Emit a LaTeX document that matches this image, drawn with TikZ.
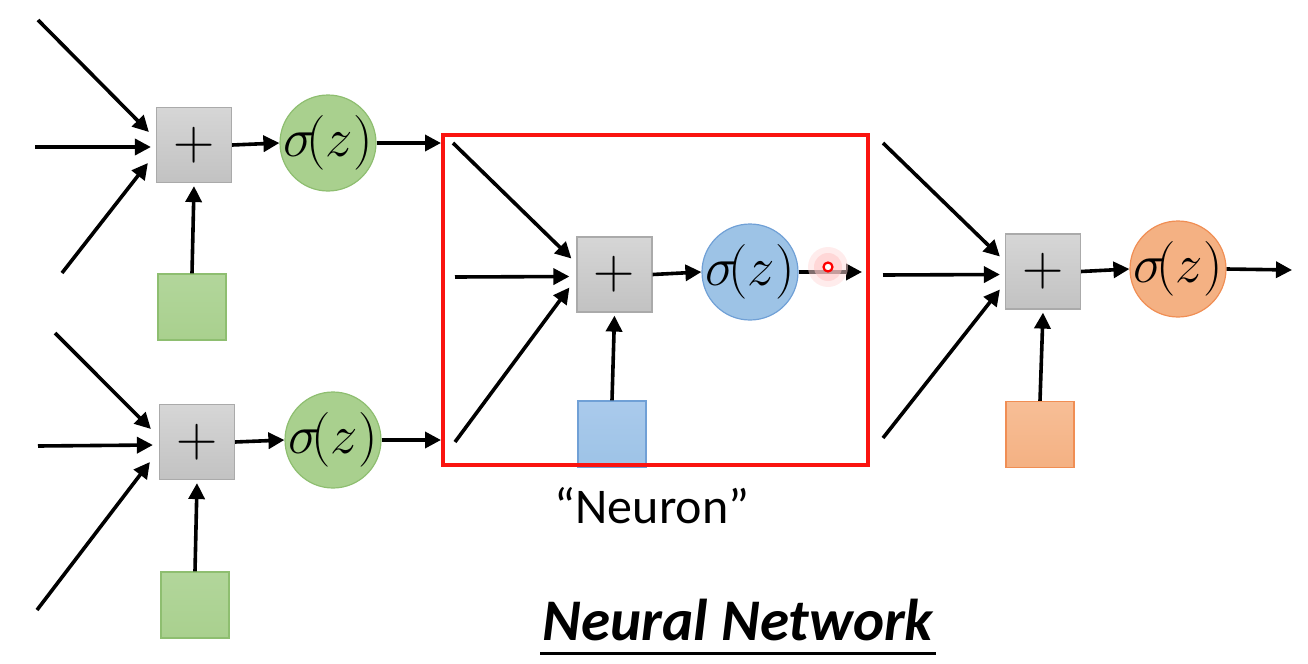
\documentclass[tikz,border=0pt]{standalone}
\usepackage{fontspec}
\setmainfont{Carlito}
\usetikzlibrary{arrows.meta,calc}
\definecolor{graytop}{RGB}{214,214,214}
\definecolor{graybot}{RGB}{194,194,194}
\definecolor{graybd}{RGB}{170,170,170}
\definecolor{greenfill}{RGB}{169,208,142}
\definecolor{greentop}{RGB}{178,214,155}
\definecolor{greenbd}{RGB}{142,190,112}
\definecolor{bluefill}{RGB}{157,195,230}
\definecolor{bluetop}{RGB}{170,202,236}
\definecolor{bluebd}{RGB}{112,160,214}
\definecolor{orangefill}{RGB}{244,177,131}
\definecolor{orangetop}{RGB}{247,190,150}
\definecolor{orangebd}{RGB}{240,142,84}
\definecolor{framered}{RGB}{250,20,16}
\newcommand{\sigz}{\makebox[0pt]{\scalebox{1.1}{$\sigma\!\bigl(z\bigr)$}}}
\newcommand{\plussign}{\scalebox{1.15}{$+$}}
\begin{document}
\begin{tikzpicture}[x=0.5pt,y=-0.5pt,
  sumbox/.style={draw=graybd, line width=0.6pt, top color=graytop, bottom color=graybot,
    minimum size=37.5pt, inner sep=0pt, font=\fontsize{24.88}{28}\selectfont},
  act/.style={circle, minimum size=48pt, inner sep=0pt, line width=0.6pt,
    font=\fontsize{24.88}{28}\selectfont},
  greenact/.style={act, fill=greenfill, draw=greenbd},
  blueact/.style={act, fill=bluefill, draw=bluebd},
  orangeact/.style={act, fill=orangefill, draw=orangebd},
  bias/.style={minimum width=34pt, minimum height=33pt, inner sep=0pt, line width=0.6pt},
  greenbias/.style={bias, draw=greenbd, top color=greentop, bottom color=greenfill},
  bluebias/.style={bias, draw=bluebd, top color=bluetop, bottom color=bluefill},
  orangebias/.style={bias, draw=orangebd, top color=orangetop, bottom color=orangefill},
  arr/.style={line width=1.8pt, -{Triangle[length=8pt,width=8pt]}},
]
\useasboundingbox (0,0) rectangle (1308,664);

% ---------- top-left neuron ----------
\node[sumbox] (s1) at (194,145) {\plussign};
\node[greenact] (a1) at (328,143) {\sigz};
\node[greenbias] (b1) at (192,307) {};
\coordinate (i1a) at (38,20);
\coordinate (i1b) at (35,147);
\coordinate (i1c) at (62,273);
\draw[arr] (i1a) -- ($(s1.west)+(-7,-13)$);
\draw[arr] (i1b) -- ($(s1.west)+(-5,2)$);
\draw[arr] (i1c) -- ($(s1.west)+(-8,18)$);
\draw[arr] (b1.north) -- ($(s1.south)+(0,3)$);
\draw[arr] (s1.east) -- (a1.west);

% ---------- bottom-left neuron ----------
\node[sumbox] (s2) at (197,442) {\plussign};
\node[greenact] (a2) at (333,440) {\sigz};
\node[greenbias] (b2) at (195,605) {};
\coordinate (i2a) at (55,333);
\coordinate (i2b) at (38,446);
\coordinate (i2c) at (37,610);
\draw[arr] (i2a) -- ($(s2.west)+(-8,-13)$);
\draw[arr] (i2b) -- ($(s2.west)+(-6,3)$);
\draw[arr] (i2c) -- ($(s2.west)+(-9,20)$);
\draw[arr] (b2.north) -- ($(s2.south)+(0,3)$);
\draw[arr] (s2.east) -- (a2.west);

% ---------- middle neuron ----------
\node[sumbox] (s3) at (614.5,274.5) {\plussign};
\node[blueact] (a3) at (750,272) {\sigz};
\node[bluebias] (b3) at (612,434) {};
\coordinate (i3a) at (453,143);
\coordinate (i3b) at (455,277);
\coordinate (i3c) at (455,442);
\coordinate (o3) at (862,272);
\draw[arr] (i3a) -- ($(s3.west)+(-5,-16)$);
\draw[arr] (i3b) -- ($(s3.west)+(-7,2)$);
\draw[arr] (i3c) -- ($(s3.west)+(-7,13)$);
\draw[arr] (b3.north) -- ($(s3.south)+(0,3)$);
\draw[arr] (s3.east) -- (a3.west);
\draw[arr] (a3.east) -- (o3);

% frame around the neuron
\node[draw=framered, line width=2pt, minimum width=212.5pt, minimum height=165pt,
  inner sep=0pt] (frame) at (655.5,300) {};
\draw[arr] (a1.east) -- (frame.west |- a1.east);
\draw[arr] (a2.east) -- (frame.west |- a2.east);

% cursor mark
\fill[red!30, opacity=0.55] (828,267) circle (7pt);
\fill[red!15, opacity=0.5] (828,267) circle (10pt);
\node[circle, draw=red, fill=white, line width=1.1pt, minimum size=4.5pt, inner sep=0pt] (cur) at (828,267) {};

% ---------- right neuron ----------
\node[sumbox] (s4) at (1043,271.5) {\plussign};
\node[orangeact] (a4) at (1178,269) {\sigz};
\node[orangebias] (b4) at (1040,434.5) {};
\coordinate (i4a) at (883,143);
\coordinate (i4b) at (883,275);
\coordinate (i4c) at (883,438);
\coordinate (o4) at (1292,270);
\draw[arr] (i4a) -- ($(s4.west)+(-5,-15)$);
\draw[arr] (i4b) -- ($(s4.west)+(-5,3)$);
\draw[arr] (i4c) -- ($(s4.west)+(-5,18)$);
\draw[arr] (b4.north) -- ($(s4.south)+(0,3)$);
\draw[arr] (s4.east) -- (a4.west);
\draw[arr] (a4.east) -- (o4);

% ---------- labels ----------
\node[font=\fontsize{25}{28}\selectfont, inner sep=0pt] (neuron) at (652,506) {“Neuron”};
\node[font=\fontsize{29.5}{32}\selectfont\bfseries\itshape, inner sep=1pt] (title) at (738,620) {Neural Network};
\draw[line width=1.5pt] ($(title.south west)+(0,10)$) -- ($(title.south east)+(0,10)$);
\end{tikzpicture}
\end{document}
